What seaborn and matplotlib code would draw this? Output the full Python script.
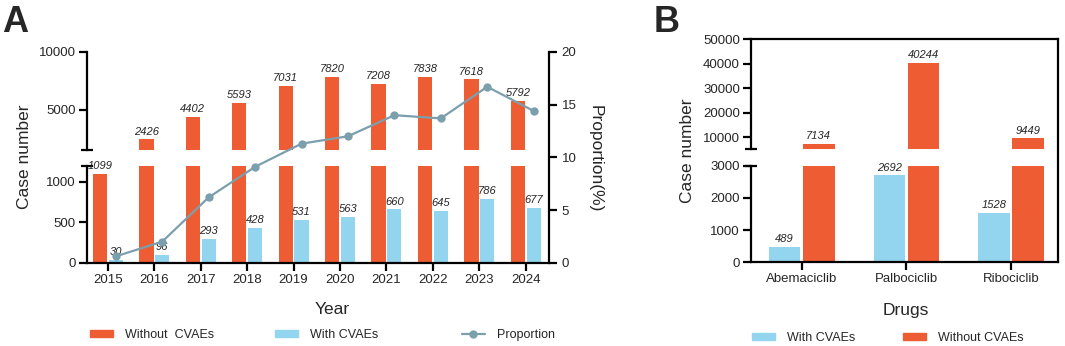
import matplotlib.pyplot as plt
import matplotlib.patches as mpatches
from matplotlib.lines import Line2D
import numpy as np
import pandas as pd
import seaborn as sns

# panel A: yearly reports
years = ['2015', '2016', '2017', '2018', '2019', '2020', '2021', '2022', '2023', '2024']
without_cvaes = [1099, 2426, 4402, 5593, 7031, 7820, 7208, 7838, 7618, 5792]
with_cvaes = [30, 96, 293, 428, 531, 563, 660, 645, 786, 677]
proportion = [0.6, 2.0, 6.2, 9.1, 11.3, 12.0, 14.0, 13.7, 16.7, 14.4]

# panel B: reports by drug
drugs = ['Abemaciclib', 'Palbociclib', 'Ribociclib']
drug_with = [489, 2692, 1528]
drug_without = [7134, 40244, 9449]

ORANGE = '#EE5C33'
BLUE = '#93D4EE'
LINE = '#7B9FAD'
W, H = 1065, 346

sns.set_style('ticks')
plt.rcParams['font.family'] = ['Liberation Sans', 'DejaVu Sans']
plt.rcParams['axes.linewidth'] = 1.6
plt.rcParams['axes.edgecolor'] = 'black'

fig = plt.figure(figsize=(W / 100, H / 100), dpi=100)


def px_axes(left, top, right, bottom):
    ax = fig.add_axes([left / W, 1 - bottom / H, (right - left) / W, (bottom - top) / H])
    ax.patch.set_alpha(0)
    return ax


def show_spines(ax, sides):
    for s in ['left', 'right', 'top', 'bottom']:
        ax.spines[s].set_visible(s in sides)


def style_ticks(ax):
    ax.tick_params(axis='both', labelsize=9.5, length=5.5, width=1.6, color='black', pad=2.5)


def break_cap(ax, y):
    ax.plot([0], [y], marker='_', markersize=8, markeredgewidth=1.6, color='black',
            transform=ax.transAxes, clip_on=False)


def label_bars(ax, container, values, lo, hi):
    ax.bar_label(container, labels=[str(v) if lo < v <= hi else '' for v in values],
                 padding=2, fontsize=8, fontstyle='italic')


# ---------- panel A ----------
df_a = pd.DataFrame({
    'year': years * 2,
    'count': without_cvaes + with_cvaes,
    'group': ['Without  CVAEs'] * len(years) + ['With CVAEs'] * len(years),
})
order_a = ['Without  CVAEs', 'With CVAEs']
xlim_a = (-0.45, 9.5)

axA_up = px_axes(87, 52, 549, 150)
axA_lo = px_axes(87, 165.7, 549, 262.7)
for ax, ylim in [(axA_up, (1500, 10000)), (axA_lo, (0, 1200))]:
    sns.barplot(data=df_a, x='year', y='count', hue='group', hue_order=order_a,
                palette=[ORANGE, BLUE], width=0.68, gap=0.1, saturation=1,
                linewidth=0, legend=False, ax=ax)
    ax.set(xlabel='', ylabel='', xlim=xlim_a, ylim=ylim)
    style_ticks(ax)

axA_up.set_yticks([5000, 10000])
axA_up.tick_params(axis='x', bottom=False, labelbottom=False)
show_spines(axA_up, ['left'])
break_cap(axA_up, 0)
label_bars(axA_up, axA_up.containers[0], without_cvaes, 1500, 10000)

axA_lo.set_yticks([0, 500, 1000])
show_spines(axA_lo, ['left', 'bottom'])
break_cap(axA_lo, 1)
label_bars(axA_lo, axA_lo.containers[0], without_cvaes, 0, 1200)
label_bars(axA_lo, axA_lo.containers[1], with_cvaes, 0, 1200)

axA_r = px_axes(87, 52, 549, 262.7)
sns.lineplot(x=np.arange(len(years)) + 0.17, y=proportion, color=LINE, marker='o',
             markersize=6, markeredgewidth=0, linewidth=1.6, ax=axA_r)
axA_r.set(xlim=xlim_a, ylim=(0, 20), yticks=[0, 5, 10, 15, 20])
axA_r.yaxis.tick_right()
axA_r.tick_params(axis='x', bottom=False, labelbottom=False)
style_ticks(axA_r)
axA_r.tick_params(axis='y', pad=3.5)
show_spines(axA_r, ['right'])

fig.text(2 / W, 1 - 23 / H, 'A', fontsize=26, fontweight='bold', ha='left', va='center')
fig.text(25 / W, 1 - 157 / H, 'Case number', fontsize=12.5, rotation=90, ha='center', va='center')
fig.text(595 / W, 1 - 159 / H, 'Proportion(%)', fontsize=12.5, rotation=270, ha='center', va='center')
fig.text(332 / W, 1 - 309 / H, 'Year', fontsize=12.5, ha='center', va='center')

# ---------- panel B ----------
df_b = pd.DataFrame({
    'drug': drugs * 2,
    'count': drug_with + drug_without,
    'group': ['With CVAEs'] * len(drugs) + ['Without CVAEs'] * len(drugs),
})
order_b = ['With CVAEs', 'Without CVAEs']
xlim_b = (-0.484, 2.448)

axB_frame = px_axes(751, 39.3, 1058, 262.3)
axB_frame.set(xticks=[], yticks=[])
show_spines(axB_frame, ['top', 'right'])

axB_up = px_axes(751, 39.3, 1058, 149.3)
axB_lo = px_axes(751, 165.5, 1058, 262.3)
for ax, ylim in [(axB_up, (5000, 50000)), (axB_lo, (0, 3000))]:
    sns.barplot(data=df_b, x='drug', y='count', hue='group', hue_order=order_b,
                palette=[BLUE, ORANGE], width=0.65, gap=0.07, saturation=1,
                linewidth=0, legend=False, ax=ax)
    ax.set(xlabel='', ylabel='', xlim=xlim_b, ylim=ylim)
    style_ticks(ax)

axB_up.set_yticks([10000, 20000, 30000, 40000, 50000])
axB_up.tick_params(axis='x', bottom=False, labelbottom=False)
show_spines(axB_up, ['left'])
break_cap(axB_up, 0)
label_bars(axB_up, axB_up.containers[1], drug_without, 5000, 50000)

axB_lo.set_yticks([0, 1000, 2000, 3000])
show_spines(axB_lo, ['left', 'bottom'])
break_cap(axB_lo, 1)
label_bars(axB_lo, axB_lo.containers[0], drug_with, 0, 3000)

fig.text(654 / W, 1 - 23 / H, 'B', fontsize=26, fontweight='bold', ha='left', va='center')
fig.text(688 / W, 1 - 151 / H, 'Case number', fontsize=12.5, rotation=90, ha='center', va='center')
fig.text(906 / W, 1 - 311 / H, 'Drugs', fontsize=12.5, ha='center', va='center')


# ---------- legends ----------
def legend_entry(handle, label, x, y):
    leg = fig.legend([handle], [label], loc='center left', bbox_to_anchor=(x / W, 1 - y / H),
                     frameon=False, fontsize=9, handlelength=1.8, handleheight=0.55,
                     handletextpad=1.0, borderpad=0, borderaxespad=0)
    return leg


orange_patch = mpatches.Patch(color=ORANGE)
blue_patch = mpatches.Patch(color=BLUE)
prop_line = Line2D([], [], color=LINE, marker='o', markersize=6, markeredgewidth=0, linewidth=1.6)

legend_entry(orange_patch, 'Without  CVAEs', 90, 335)
legend_entry(blue_patch, 'With CVAEs', 275, 335)
legend_entry(prop_line, 'Proportion', 462, 335)
legend_entry(blue_patch, 'With CVAEs', 752, 338)
legend_entry(orange_patch, 'Without CVAEs', 903, 338)

fig.savefig('out.png', dpi=100)
